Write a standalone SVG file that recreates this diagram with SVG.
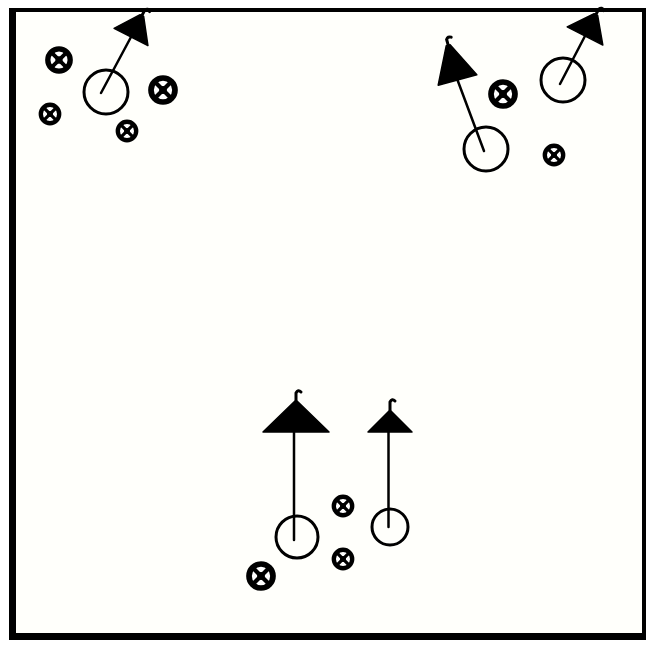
<svg xmlns="http://www.w3.org/2000/svg" xmlns:xlink="http://www.w3.org/1999/xlink" width="649" height="646" viewBox="0 0 649 646">
<style>
.player{fill:none;stroke:#000;stroke-width:3}
.link{stroke:#000;stroke-width:2.5;stroke-linecap:round;fill:none}
.cone{fill:#000;stroke:#000;stroke-width:1.5;stroke-linejoin:round}
.hook{fill:none;stroke:#000;stroke-width:3;stroke-linecap:round}
</style>
<defs>
<g id="ball">
<circle r="8" fill="#fff" stroke="#000" stroke-width="3.8"/>
<path d="M-5.5,-5.5 L5.5,5.5 M-5.5,5.5 L5.5,-5.5" stroke="#000" stroke-width="2.8"/>
<circle r="2.6" fill="#000"/>
</g>
</defs>
<rect x="0" y="0" width="649" height="646" fill="#ffffff"/>
<rect x="12" y="10" width="632" height="625" fill="#fffffb"/>
<path d="M9,8 H646 V640 H9 Z M16,12 V633 H642 V12 Z" fill="#000" fill-rule="evenodd"/>

<g id="connectors">
<line class="link" x1="101" y1="93" x2="131" y2="37"/>
<line class="link" x1="484" y1="151" x2="457.5" y2="80"/>
<line class="link" x1="560" y1="84" x2="585" y2="36"/>
<line class="link" x1="294" y1="540" x2="294" y2="432"/>
<line class="link" x1="388.5" y1="527" x2="388.5" y2="432"/>
</g>

<g id="player-tl"><circle class="player" cx="106" cy="92" r="22"/></g>
<g id="player-tr1"><circle class="player" cx="486" cy="149" r="22"/></g>
<g id="player-tr2"><circle class="player" cx="563" cy="80" r="22"/></g>
<g id="player-b1"><circle class="player" cx="297" cy="537" r="21"/></g>
<g id="player-b2"><circle class="player" cx="390" cy="527" r="18"/></g>

<g id="cone-tl" transform="translate(131,37) rotate(27)">
<path class="cone" d="M-19,0 L-2,-24 L2,-24 L19,0 Z"/>
<path class="hook" d="M0,-24 V-30 Q2,-34 5,-31"/>
</g>
<g id="cone-tr1" transform="translate(457.5,80) rotate(-15)">
<path class="cone" d="M-20,0 L-2,-36 L2,-36 L20,0 Z"/>
<path class="hook" d="M0,-36 V-42 Q2,-45 5,-43"/>
</g>
<g id="cone-tr2" transform="translate(585,36) rotate(27)">
<path class="cone" d="M-20,0 L-2,-24 L2,-24 L20,0 Z"/>
<path class="hook" d="M0,-24 V-30 Q2,-34 5,-31"/>
</g>
<g id="cone-b1" transform="translate(296,432)">
<path class="cone" d="M-33,0 L0,-32 L33,0 Z"/>
<path class="hook" d="M0,-32 V-39 Q2,-43 5,-40"/>
</g>
<g id="cone-b2" transform="translate(390,432)">
<path class="cone" d="M-22,0 L0,-22 L22,0 Z"/>
<path class="hook" d="M0,-22 V-30 Q2,-34 5,-31"/>
</g>

<g id="ball-1" transform="translate(59,60) scale(1.4)"><use xlink:href="#ball"/></g>
<g id="ball-2" transform="translate(50,114) scale(1.15)"><use xlink:href="#ball"/></g>
<g id="ball-3" transform="translate(163,90) scale(1.5)"><use xlink:href="#ball"/></g>
<g id="ball-4" transform="translate(127,131) scale(1.15)"><use xlink:href="#ball"/></g>
<g id="ball-5" transform="translate(503,94) scale(1.5)"><use xlink:href="#ball"/></g>
<g id="ball-6" transform="translate(554,155) scale(1.15)"><use xlink:href="#ball"/></g>
<g id="ball-7" transform="translate(343,506) scale(1.15)"><use xlink:href="#ball"/></g>
<g id="ball-8" transform="translate(343,559) scale(1.15)"><use xlink:href="#ball"/></g>
<g id="ball-9" transform="translate(261,576) scale(1.5)"><use xlink:href="#ball"/></g>
</svg>
